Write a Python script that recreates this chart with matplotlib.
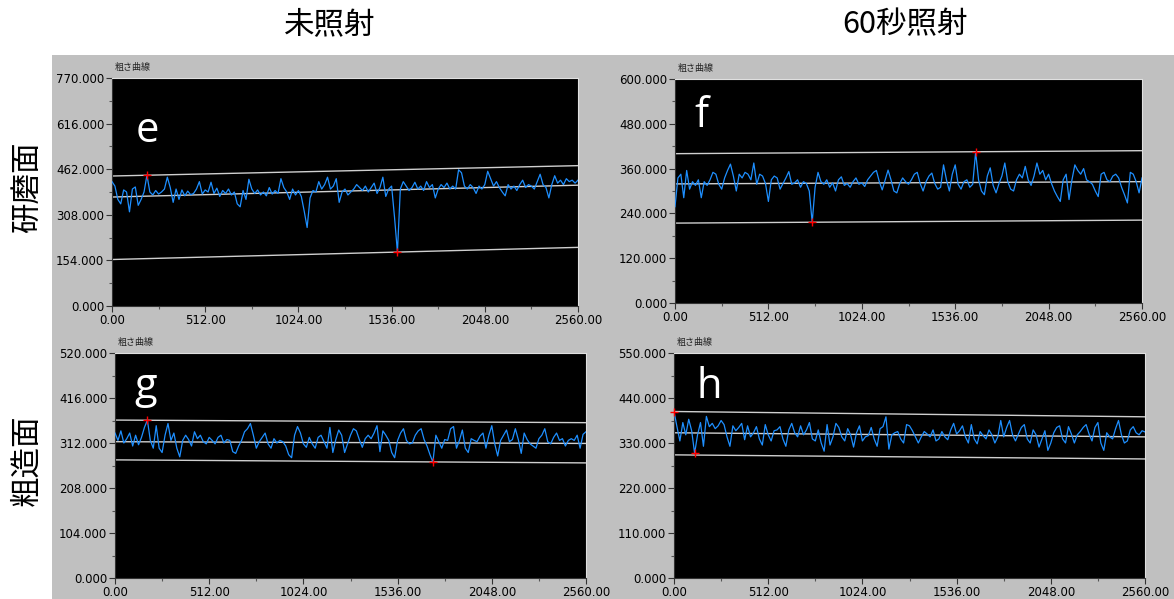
import numpy as np
import matplotlib.pyplot as plt
from matplotlib.patches import Rectangle
from matplotlib.ticker import MultipleLocator, FormatStrFormatter

plt.rcParams['font.family'] = ['DejaVu Sans']
CJK = ['Noto Sans CJK JP', 'DejaVu Sans']

# roughness profiles, one sample every 16 units along 0..2560
e_vals = [420, 405, 360, 345, 392, 385, 318, 395, 402, 340, 360, 385, 442, 385, 375, 390,
          378, 385, 395, 435, 400, 350, 395, 360, 392, 372, 388, 376, 380, 395, 420, 378,
          392, 385, 418, 380, 398, 370, 390, 380, 395, 375, 385, 345, 335, 390, 360, 428,
          395, 380, 392, 375, 385, 372, 400, 378, 390, 380, 430, 400, 385, 360, 395, 375,
          390, 370, 320, 265, 365, 390, 385, 420, 395, 410, 435, 395, 405, 430, 350, 385,
          395, 375, 385, 395, 410, 400, 390, 405, 385, 400, 415, 380, 400, 435, 370, 395,
          405, 300, 182, 395, 420, 405, 390, 400, 418, 395, 405, 390, 420, 400, 410, 365,
          395, 410, 400, 415, 395, 405, 395, 460, 450, 405, 395, 410, 400, 380, 405, 395,
          410, 455, 430, 405, 420, 400, 385, 372, 410, 395, 405, 390, 410, 425, 400, 410,
          405, 395, 420, 445, 410, 400, 365, 410, 440, 415, 425, 410, 430, 420, 425, 415,
          425]
f_vals = [258, 335, 345, 282, 355, 305, 325, 315, 330, 282, 325, 315, 330, 350, 345, 318,
          305, 335, 355, 372, 340, 300, 345, 335, 350, 345, 330, 375, 318, 345, 340, 320,
          272, 330, 340, 335, 305, 320, 335, 352, 318, 322, 330, 310, 325, 320, 300, 216,
          310, 350, 325, 318, 330, 310, 322, 300, 330, 338, 315, 320, 310, 325, 335, 318,
          322, 312, 330, 340, 350, 355, 325, 303, 330, 356, 330, 300, 295, 320, 335, 325,
          318, 330, 345, 350, 320, 300, 325, 340, 348, 320, 305, 310, 370, 330, 300, 345,
          370, 318, 305, 325, 330, 310, 318, 404, 330, 300, 290, 340, 362, 315, 295, 320,
          340, 375, 325, 305, 300, 330, 345, 335, 366, 330, 315, 340, 375, 345, 355, 330,
          345, 320, 300, 285, 272, 330, 345, 277, 330, 370, 355, 345, 360, 330, 325, 318,
          300, 285, 345, 350, 330, 325, 340, 345, 335, 310, 290, 268, 350, 345, 325, 295,
          335]
g_vals = [335, 318, 340, 312, 322, 335, 305, 330, 308, 325, 348, 365, 318, 300, 352, 300,
          290, 330, 357, 318, 335, 300, 280, 318, 330, 320, 305, 338, 322, 330, 315, 310,
          325, 318, 310, 325, 330, 312, 320, 318, 292, 288, 305, 318, 338, 345, 357, 330,
          300, 315, 325, 335, 310, 300, 322, 312, 318, 315, 305, 285, 278, 330, 350, 335,
          310, 302, 325, 310, 300, 325, 330, 315, 300, 348, 290, 320, 342, 330, 290, 310,
          330, 345, 340, 320, 302, 322, 330, 322, 335, 352, 292, 340, 330, 318, 290, 278,
          318, 335, 345, 318, 310, 312, 330, 340, 345, 320, 305, 285, 268, 330, 315, 300,
          320, 318, 345, 350, 300, 318, 342, 300, 290, 322, 318, 315, 328, 335, 300, 330,
          352, 310, 282, 318, 330, 342, 315, 320, 345, 320, 288, 335, 320, 310, 305, 300,
          322, 330, 345, 315, 310, 325, 335, 318, 322, 305, 318, 322, 318, 330, 300, 332,
          338]
h_vals = [407, 370, 335, 380, 350, 388, 360, 305, 350, 380, 322, 395, 370, 378, 365, 372,
          385, 375, 345, 322, 372, 360, 368, 378, 338, 372, 345, 355, 370, 340, 325, 375,
          350, 335, 360, 362, 370, 340, 322, 362, 378, 355, 345, 372, 350, 362, 380, 340,
          335, 362, 330, 310, 375, 325, 345, 378, 368, 345, 335, 365, 350, 320, 355, 372,
          335, 345, 348, 368, 340, 322, 365, 370, 394, 315, 350, 355, 358, 340, 330, 375,
          372, 360, 345, 330, 345, 358, 352, 345, 362, 335, 340, 358, 345, 338, 362, 378,
          352, 360, 372, 345, 330, 375, 340, 328, 358, 348, 340, 362, 350, 330, 345, 385,
          345, 368, 385, 350, 335, 352, 368, 375, 340, 330, 362, 350, 320, 340, 360, 312,
          330, 355, 368, 372, 340, 330, 370, 352, 330, 350, 358, 368, 375, 352, 335, 368,
          380, 330, 312, 355, 345, 340, 365, 385, 350, 330, 335, 362, 370, 355, 350, 360,
          357]

# reference lines: (value at 0, value at 2560) for upper / mean / lower
e_lines = [(439, 474), (368, 408), (157, 198)]
f_lines = [(400, 408), (319, 325), (214, 222)]
g_lines = [(365, 359), (315, 311), (273, 266)]
h_lines = [(407, 394), (355, 345), (301, 291)]

y_tops = [770, 600, 520, 550]
letters = ['e', 'f', 'g', 'h']
col_titles = ['未照射', '60秒照射']
row_titles = ['研磨面', '粗造面']

W, H = 1174, 599


def box(l, t, r, b):
    return [l / W, 1 - b / H, (r - l) / W, (b - t) / H]


fig = plt.figure(figsize=(W / 100, H / 100), dpi=100)
fig.patches.append(Rectangle((52 / W, 0), (W - 52) / W, (H - 55) / H,
                             transform=fig.transFigure, facecolor='#c0c0c0',
                             edgecolor='none', zorder=-1))

boxes = [box(112, 78, 578, 306), box(675, 79, 1142, 303),
         box(115, 353, 586, 578), box(674, 353, 1145, 578)]
letter_pos = [(0.05, 0.72), (0.042, 0.786), (0.042, 0.80), (0.047, 0.80)]
profiles = [e_vals, f_vals, g_vals, h_vals]
ref_lines = [e_lines, f_lines, g_lines, h_lines]

for k in range(4):
    ax = fig.add_axes(boxes[k])
    ax.set_facecolor('black')
    vals = np.array(profiles[k], dtype=float)
    x = np.linspace(0, 2560, len(vals))
    ax.plot(x, vals, color='#1e8fff', lw=0.9, zorder=3)

    for a, b in ref_lines[k]:
        ax.plot([0, 2560], [a, b], color='#cfcfcf', lw=1.0, zorder=2)

    # peak and valley relative to the mean line
    m0, m1 = ref_lines[k][1]
    resid = vals - (m0 + (m1 - m0) * x / 2560)
    for idx in (np.argmax(resid), np.argmin(resid)):
        ax.plot(x[idx], vals[idx], marker='+', color='red', ms=6, mew=1.0,
                zorder=4, clip_on=False)

    ax.set_xlim(0, 2560)
    ax.set_ylim(0, y_tops[k])
    ax.xaxis.set_major_locator(MultipleLocator(512))
    ax.xaxis.set_minor_locator(MultipleLocator(256))
    ax.yaxis.set_major_locator(MultipleLocator(y_tops[k] / 5))
    ax.yaxis.set_minor_locator(MultipleLocator(y_tops[k] / 10))
    ax.xaxis.set_major_formatter(FormatStrFormatter('%.2f'))
    ax.yaxis.set_major_formatter(FormatStrFormatter('%.3f'))
    ax.tick_params(which='major', direction='out', length=4, width=0.8,
                   color='#333333', labelsize=8.5, pad=1.5)
    ax.tick_params(which='minor', direction='out', length=2.5, width=0.8,
                   color='#555555')
    for side in ['left', 'bottom']:
        ax.spines[side].set_color('#333333')
    for side in ['top', 'right']:
        ax.spines[side].set_color('#e0e0e0')

    ax.text(0.005, 1.025, '粗さ曲線', transform=ax.transAxes, fontsize=6.5,
            family=CJK, ha='left', va='bottom', color='#222222')
    lx, ly = letter_pos[k]
    ax.text(lx, ly, letters[k], transform=ax.transAxes, fontsize=30,
            family=['Open Sans', 'DejaVu Sans'], color='white',
            ha='left', va='baseline', zorder=5)

fig.text(330 / W, 1 - 25 / H, col_titles[0], fontsize=22, family=CJK,
         ha='center', va='center')
fig.text(905 / W, 1 - 25 / H, col_titles[1], fontsize=22, family=CJK,
         ha='center', va='center')
fig.text(27 / W, 1 - 187 / H, row_titles[0], fontsize=22, family=CJK,
         rotation=90, ha='center', va='center')
fig.text(27 / W, 1 - 460 / H, row_titles[1], fontsize=22, family=CJK,
         rotation=90, ha='center', va='center')

fig.savefig('out.png', dpi=100)
